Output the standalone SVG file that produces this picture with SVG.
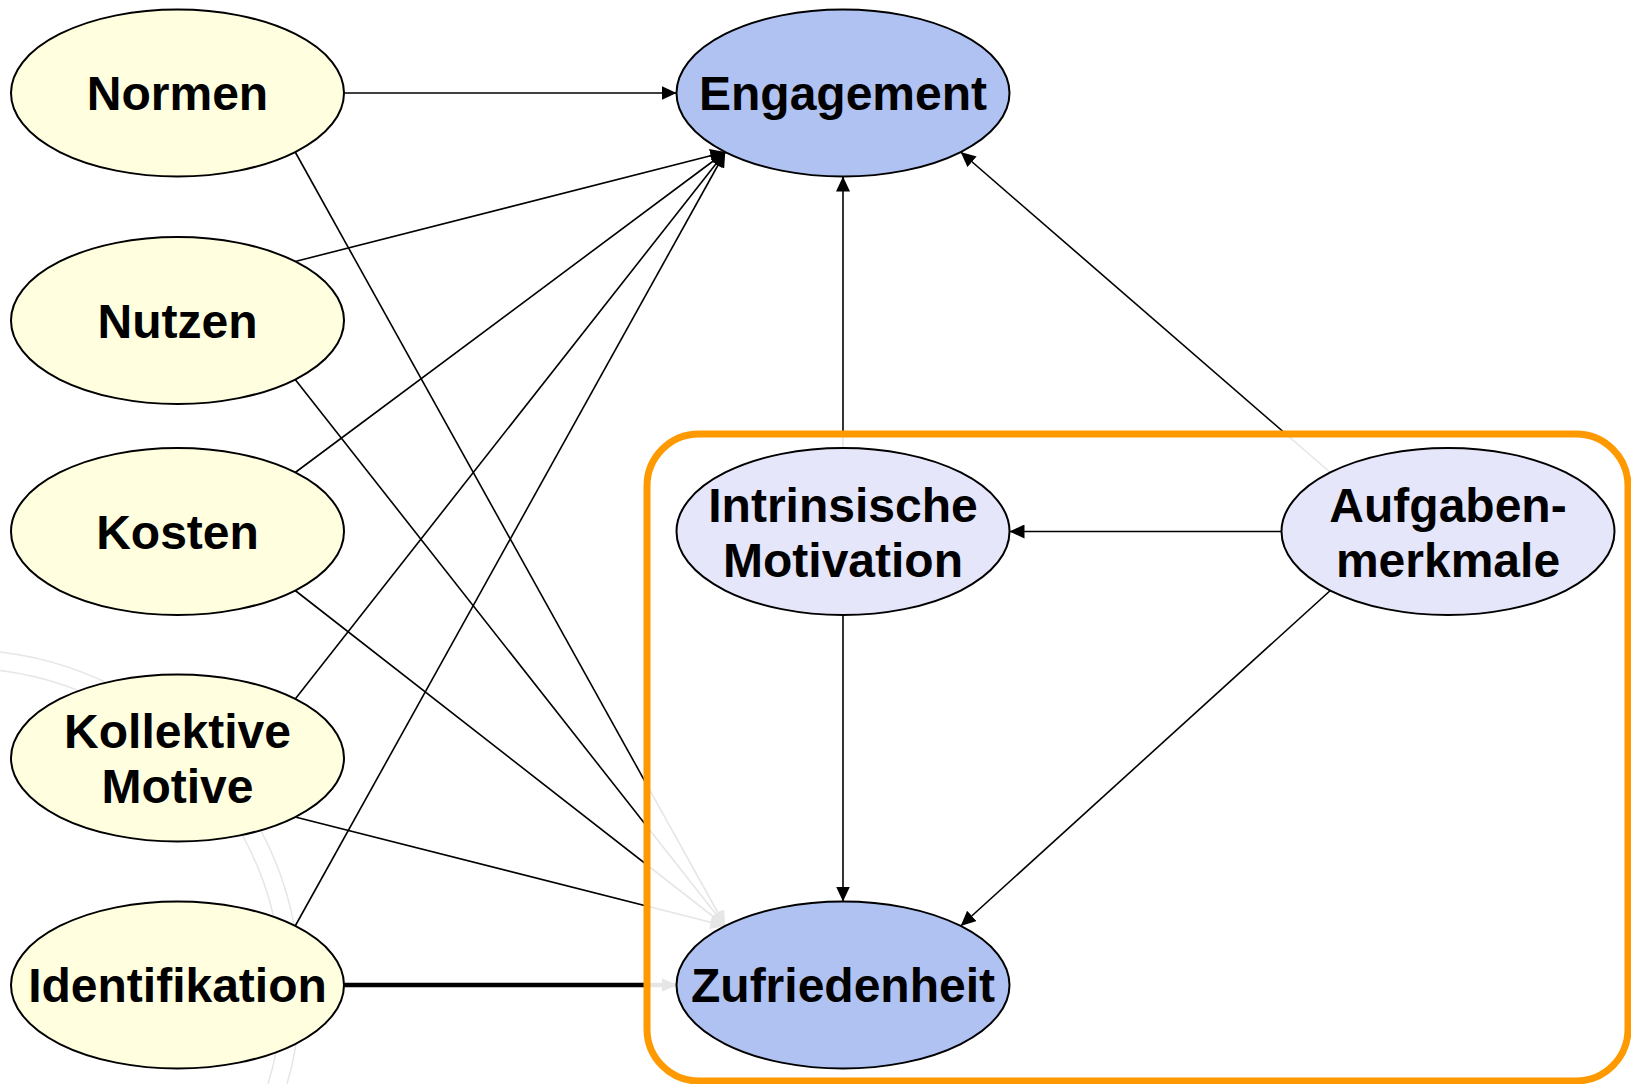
<svg xmlns="http://www.w3.org/2000/svg" width="1631" height="1084" viewBox="0 0 1631 1084">
  <defs>
    <style>
      .node ellipse { stroke: #000; stroke-width: 2; }
      .src { fill: #FFFFE0; }
      .out { fill: #B0C2F2; }
      .mid { fill: #E6E6FA; }
      .lbl { font-family: "Liberation Sans", Arial, sans-serif; font-weight: bold; font-size: 48px; fill: #000; text-anchor: middle; }
      .edge { stroke: #000; stroke-width: 1.6; fill: none; marker-end: url(#arrow); }
      .thick { stroke-width: 4.5; }
      .wm { fill: none; stroke: #E6E6E6; stroke-width: 1.5; }
    </style>
    <marker id="arrow" viewBox="0 0 10 10" refX="10" refY="5" markerUnits="userSpaceOnUse" markerWidth="15" markerHeight="14" orient="auto" preserveAspectRatio="none">
      <path d="M0,0 L10,5 L0,10 z" fill="#000"/>
    </marker>
  </defs>

  <rect width="1631" height="1084" fill="#FFFFFF"/>

  <g id="watermark">
    <path class="wm" d="M0,652 A340,340 0 0 1 287,1084"/>
    <path class="wm" d="M0,670.5 A322,322 0 0 1 268,1084"/>
  </g>

  <g id="connectors">
    <line class="edge" x1="344" y1="93" x2="676.5" y2="93"/>
    <line class="edge" x1="295.2" y1="261.5" x2="725.3" y2="152"/>
    <line class="edge" x1="295.2" y1="472.5" x2="725.3" y2="152"/>
    <line class="edge" x1="295.2" y1="699" x2="725.3" y2="152"/>
    <line class="edge" x1="295.2" y1="926" x2="725.3" y2="152"/>
    <line class="edge" x1="295.2" y1="152" x2="725.3" y2="926"/>
    <line class="edge" x1="295.2" y1="379.5" x2="725.3" y2="926"/>
    <line class="edge" x1="295.2" y1="590.5" x2="725.3" y2="926"/>
    <line class="edge" x1="295.2" y1="817" x2="725.3" y2="926"/>
    <line class="edge thick" x1="344" y1="985" x2="676.5" y2="985"/>
    <line class="edge" x1="843" y1="448" x2="843" y2="176.5"/>
    <line class="edge" x1="1330.3" y1="472.5" x2="960.7" y2="152"/>
  </g>

  <rect id="frame" x="647" y="434" width="981" height="647" rx="52" ry="52" fill="#FFFFFF" fill-opacity="0.9" stroke="#FF9900" stroke-width="7"/>

  <g id="connectors-inner">
    <line class="edge" x1="1281.5" y1="531.5" x2="1009.5" y2="531.5"/>
    <line class="edge" x1="843" y1="615" x2="843" y2="901.5"/>
    <line class="edge" x1="1330.3" y1="590.5" x2="960.7" y2="926"/>
  </g>

  <g id="normen" class="node">
    <ellipse class="src" cx="177.5" cy="93" rx="166.5" ry="83.5"/>
    <text class="lbl" x="177.5" y="110">Normen</text>
  </g>
  <g id="nutzen" class="node">
    <ellipse class="src" cx="177.5" cy="320.5" rx="166.5" ry="83.5"/>
    <text class="lbl" x="177.5" y="337.5">Nutzen</text>
  </g>
  <g id="kosten" class="node">
    <ellipse class="src" cx="177.5" cy="531.5" rx="166.5" ry="83.5"/>
    <text class="lbl" x="177.5" y="548.5">Kosten</text>
  </g>
  <g id="kollektive-motive" class="node">
    <ellipse class="src" cx="177.5" cy="758" rx="166.5" ry="83.5"/>
    <text class="lbl" x="177.5" y="748">Kollektive</text>
    <text class="lbl" x="177.5" y="803">Motive</text>
  </g>
  <g id="identifikation" class="node">
    <ellipse class="src" cx="177.5" cy="985" rx="166.5" ry="83.5"/>
    <text class="lbl" x="177.5" y="1002">Identifikation</text>
  </g>
  <g id="engagement" class="node">
    <ellipse class="out" cx="843" cy="93" rx="166.5" ry="83.5"/>
    <text class="lbl" x="843" y="110">Engagement</text>
  </g>
  <g id="intrinsische-motivation" class="node">
    <ellipse class="mid" cx="843" cy="531.5" rx="166.5" ry="83.5"/>
    <text class="lbl" x="843" y="521.5">Intrinsische</text>
    <text class="lbl" x="843" y="576.5">Motivation</text>
  </g>
  <g id="aufgabenmerkmale" class="node">
    <ellipse class="mid" cx="1448" cy="531.5" rx="166.5" ry="83.5"/>
    <text class="lbl" x="1448" y="521.5">Aufgaben-</text>
    <text class="lbl" x="1448" y="576.5">merkmale</text>
  </g>
  <g id="zufriedenheit" class="node">
    <ellipse class="out" cx="843" cy="985" rx="166.5" ry="83.5"/>
    <text class="lbl" x="843" y="1002">Zufriedenheit</text>
  </g>
</svg>
